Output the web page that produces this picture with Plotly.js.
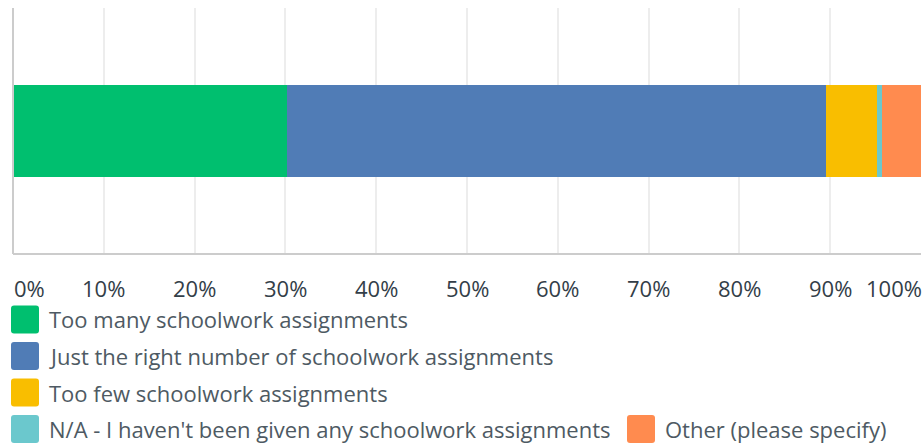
<!DOCTYPE html>
<html>
<head>
<meta charset="utf-8">
<script src="https://cdn.plot.ly/plotly-3.0.1.min.js"></script>
<style>html,body{margin:0;padding:0;background:#fff}#chart{width:924px;height:447px}</style>
</head>
<body>
<div id="chart"></div>
<script>
const categories = ["Q"];
const seriesNames = [
  "Too many schoolwork assignments",
  "Just the right number of schoolwork assignments",
  "Too few schoolwork assignments",
  "N/A - I haven't been given any schoolwork assignments",
  "Other (please specify)"
];
const seriesValues = [30.2, 59.3, 5.7, 0.5, 4.3];
const seriesColors = ["#00bf6f", "#507cb6", "#f9be00", "#6bc8cd", "#ff8b4f"];
const tickValues = [0, 10, 20, 30, 40, 50, 60, 70, 80, 90, 100];
const tickLabels = ["0%", "10%", "20%", "30%", "40%", "50%", "60%", "70%", "80%", "90%", "100%"];

const W = 924, H = 447;
const M = {l: 13, r: 3, t: 8, b: 193};
const PW = W - M.l - M.r, PH = H - M.t - M.b;
const px2x = px => (px - M.l) / PW;
const py2y = py => (H - M.b - py) / PH;

const FONT = "Open Sans";
const FS = 22;
const traces = seriesNames.map((n, i) => ({
  type: "bar", orientation: "h", name: n,
  y: categories, x: [seriesValues[i]],
  marker: {color: seriesColors[i], line: {width: 0}},
  width: 0.37, hoverinfo: "name+x", showlegend: false
}));

const last = tickValues.length - 1;
const annotations = tickValues.map((v, i) => ({
  x: v, xref: "x", y: py2y(288), yref: "paper",
  text: tickLabels[i], showarrow: false,
  xanchor: i === 0 ? "left" : (i === last ? "right" : "center"),
  xshift: i === 0 ? 0 : (i === last ? 2 : 0),
  yanchor: "middle", borderpad: 0,
  font: {family: FONT, size: FS, color: "#333e48"}
}));

// legend layout (rows/cols positions)
const legendPos = [[11, 319.5], [11, 356], [11, 392.5], [11, 429], [627, 429]];
const shapes = [];
const sw = 28, r = 3;
legendPos.forEach((p, i) => {
  const path = `M ${r} 0 L ${sw - r} 0 Q ${sw} 0 ${sw} ${r} L ${sw} ${sw - r} Q ${sw} ${sw} ${sw - r} ${sw} L ${r} ${sw} Q 0 ${sw} 0 ${sw - r} L 0 ${r} Q 0 0 ${r} 0 Z`;
  shapes.push({
    type: "path", xref: "paper", yref: "paper",
    xsizemode: "pixel", ysizemode: "pixel",
    xanchor: px2x(p[0]), yanchor: py2y(p[1] + sw / 2),
    path: path, fillcolor: seriesColors[i], line: {width: 0}
  });
  annotations.push({
    x: px2x(p[0] + 37), xref: "paper", y: py2y(p[1]), yref: "paper",
    text: seriesNames[i], showarrow: false, xanchor: "left", yanchor: "middle",
    borderpad: 0,
    font: {family: FONT, size: FS, color: "#4e5a63"}
  });
});

const layout = {
  width: W, height: H, margin: M,
  paper_bgcolor: "#fff", plot_bgcolor: "#fff",
  barmode: "stack", showlegend: false,
  xaxis: {
    range: [0, 100], tickvals: tickValues, showticklabels: false,
    showgrid: true, gridcolor: "#ededed", gridwidth: 2,
    zeroline: false, showline: false, fixedrange: true
  },
  yaxis: {
    range: [-0.5, 0.5], showticklabels: false, showgrid: false, zeroline: false,
    showline: false, fixedrange: true
  },
  shapes: shapes.concat([
    {type: "line", xref: "paper", yref: "paper", x0: 0, x1: 0, y0: 0, y1: 1, line: {color: "#cccccc", width: 2}},
    {type: "line", xref: "paper", yref: "paper", x0: 0, x1: 1, y0: 0, y1: 0, line: {color: "#cccccc", width: 2}}
  ]),
  annotations: annotations,
  font: {family: FONT}
};

Plotly.newPlot("chart", traces, layout, {staticPlot: true, displayModeBar: false});
</script>
</body>
</html>
